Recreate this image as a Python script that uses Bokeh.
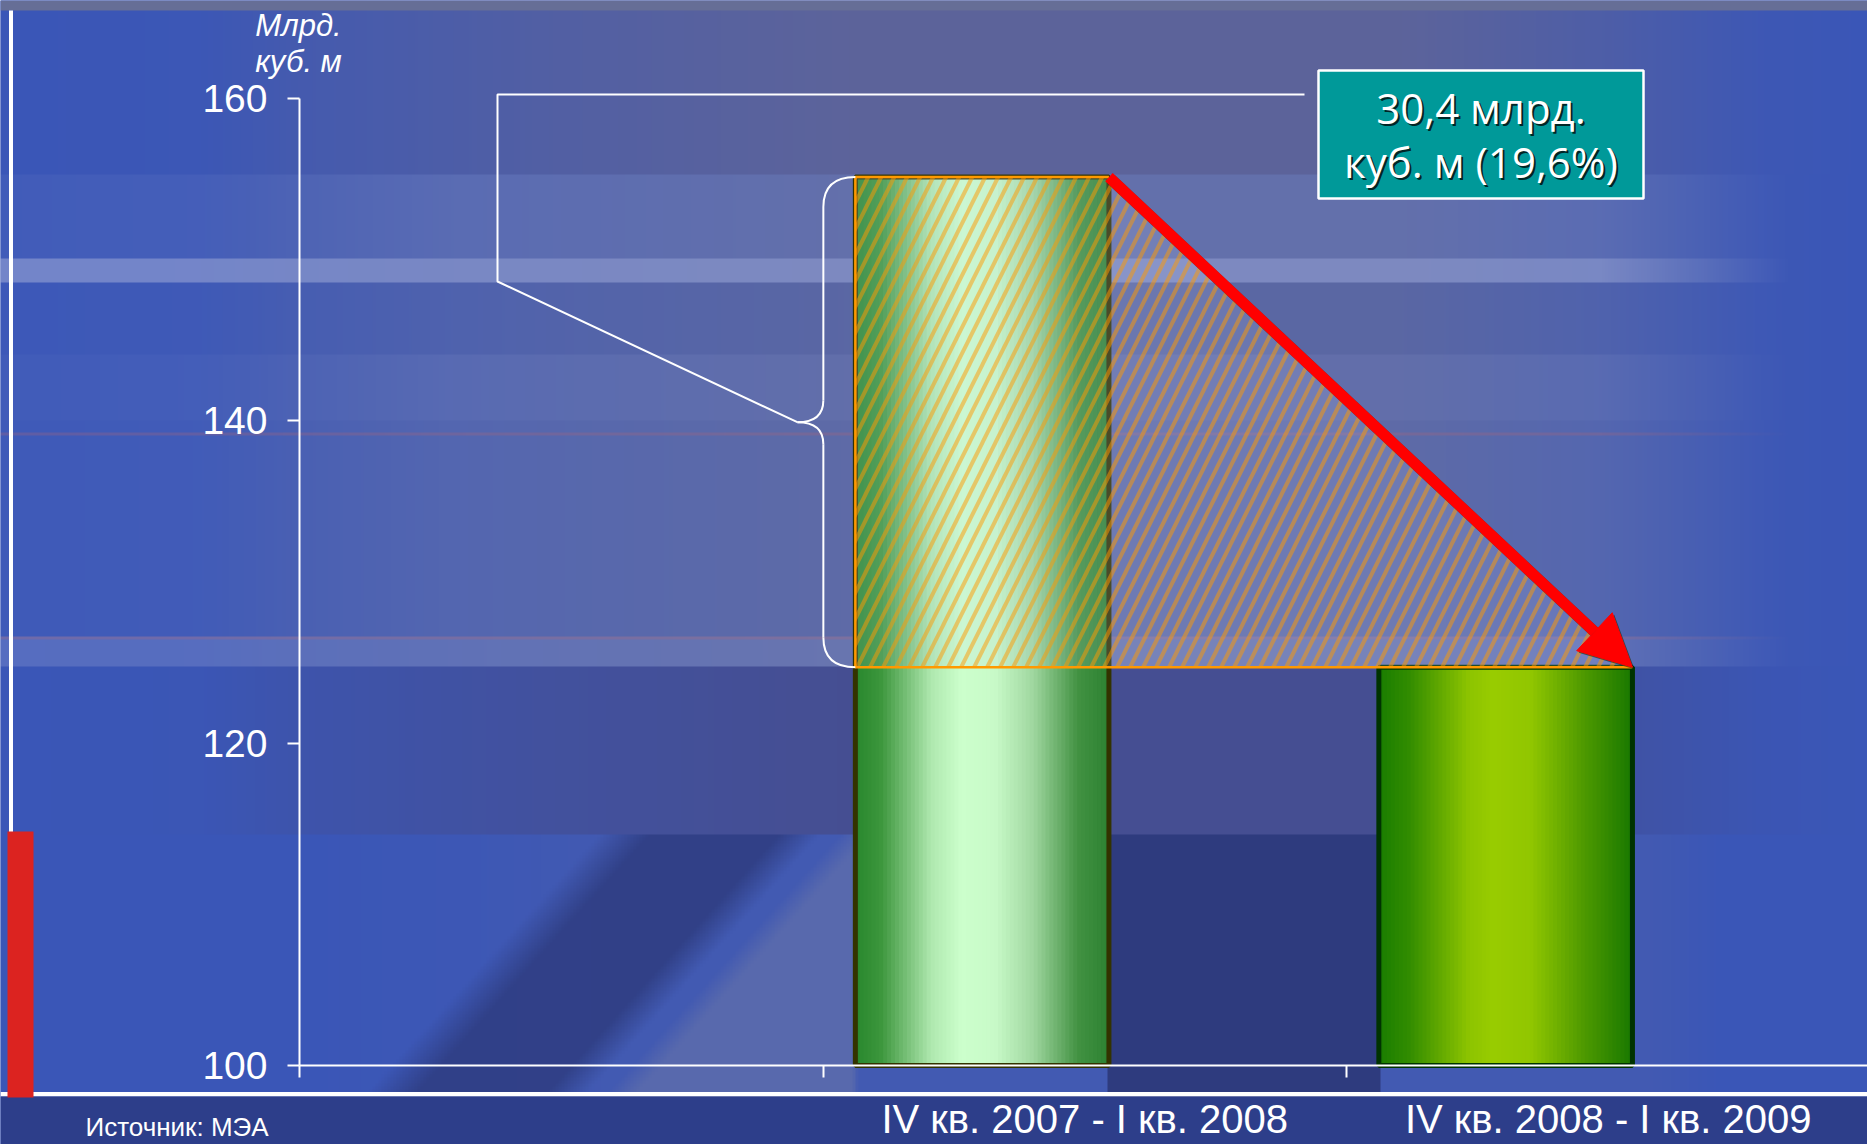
import numpy as np
from bokeh.plotting import figure
from bokeh.models import Range1d, FixedTicker, Arrow, NormalHead
from bokeh.core.properties import value
from bokeh.embed import file_html
from bokeh.resources import INLINE

# ---------------- data ----------------
categories = ["IV кв. 2007 - I кв. 2008", "IV кв. 2008 - I кв. 2009"]
volumes = [155.1, 124.7]
y_ticks = [100, 120, 140, 160]
unit_lines = ["Млрд.", "куб. м"]
change_lines = ["30,4 млрд.", "куб. м (19,6%)"]
source_text = "Источник: МЭА"

# ---------------- geometry (canvas pixels) ----------------
W, H = 1867, 1144
AX_X, AX_Y = 299, 1065   # pixel position of x=0 and y=100
XU = 523.5               # px per category slot
YU = 16.123              # px per value unit
Y0 = 100


def xd(px):
    return (px - AX_X) / XU


def yd(py):
    return Y0 + (AX_Y - py) / YU


def dx(px):
    return px / XU


def dy(px):
    return px / YU


BLUE = "#3a56b7"

p = figure(width=W, height=H, x_range=Range1d(xd(0), xd(W)), y_range=Range1d(yd(H), yd(0)),
           output_backend="svg", toolbar_location=None,
           min_border_left=0, min_border_right=0, min_border_top=0, min_border_bottom=0)
p.background_fill_color = BLUE
p.border_fill_color = BLUE
p.outline_line_color = None
p.grid.visible = False

# ---------------- background texture ----------------
RES = 3
xs_px = np.arange(0, W, RES) + RES / 2.0
ys_px = np.arange(0, H, RES) + RES / 2.0
X, Y = np.meshgrid(xs_px, ys_px)


def c(*rgb):
    return np.array(rgb, dtype=float)


def mix(col, target, t):
    t = np.clip(np.broadcast_to(t, col.shape[:2]), 0, 1)[..., None]
    return col * (1 - t) + target * t


base = np.broadcast_to(c(58, 86, 183), X.shape + (3,)).copy()
g = np.interp(X, [0, 200, 299, 550, 850, 1400, 1600, 1760, 1867],
              [0, 0.05, 0.3, 0.65, 0.95, 0.95, 0.55, 0.1, 0.0])
s = np.interp(X, [1600, 1790], [1.0, 0.0])
lf = np.interp(X, [0, 250, 450], [0.35, 0.5, 1.0])

col = mix(base, c(94, 100, 153), g)
m = ((Y >= 175) & (Y < 667))[..., None]
col = np.where(m, mix(base, c(86, 98, 158), g), col)
bands = [(175, 257, 0.22, False), (257, 283, 0.62, True), (283, 355, 0.08, False),
         (355, 420, 0.2, False), (420, 635, 0.14, False), (635, 667, 0.3, True)]
for y0, y1, st, full in bands:
    m = ((Y >= y0) & (Y < y1))[..., None]
    k = st * s * (1.0 if full else lf)
    col = np.where(m, mix(col, c(150, 162, 212), k), col)
for y0, y1 in [(433, 436), (636, 639)]:
    m = ((Y >= y0) & (Y < y1))[..., None]
    col = np.where(m, mix(col, c(170, 100, 120), 0.3 * s), col)
m = ((Y >= 667) & (Y < 833))[..., None]
col = np.where(m, mix(base, c(70, 78, 144), g), col)
# lower photo-like area
ph = mix(base, c(80, 96, 168), np.interp(X, [299, 480, 600, 1650, 1720], [0, 0.15, 0.35, 0.35, 0]))
u = X + 0.9 * (Y - 833)
dark = np.clip(np.minimum((u - 600) / 50, (820 - u) / 40), 0, 1) * (X < 860)
ph = mix(ph, c(46, 60, 128), dark * 0.85)
light = np.clip(np.minimum((u - 840) / 30, (858 - X) / 6), 0, 1)
ph = mix(ph, c(92, 108, 172), light * 0.85)
ph = mix(ph, c(44, 56, 120), ((X >= 1108) & (X < 1380)) * 0.9)
m = ((Y >= 833) & (Y < 1096))[..., None]
col = np.where(m, ph, col)

rows, cols = X.shape
rgba = np.zeros((rows, cols, 4), dtype=np.uint8)
rgba[..., :3] = np.clip(np.round(col), 0, 255).astype(np.uint8)
rgba[..., 3] = 255
img = np.ascontiguousarray(rgba.view(np.uint32).reshape(rows, cols)[::-1])
p.image_rgba(image=[img], x=xd(0), y=yd(rows * RES), dw=dx(cols * RES), dh=dy(rows * RES))

# ---------------- slide decorations ----------------
deco = [  # (left, right, top, bottom, colour) in canvas px
    (0, W, 0, 10, "#666e96"),
    (8.5, 12.5, 10, 1092, "#ffffff"),
    (0, W, 1091.5, 1096, "#ffffff"),
    (0, W, 1096, H, "#2d3e8a"),
    (7, 33, 831, 1097, "#dc2320"),
]
p.quad(left=[xd(a[0]) for a in deco], right=[xd(a[1]) for a in deco],
       top=[yd(a[2]) for a in deco], bottom=[yd(a[3]) for a in deco],
       fill_color=[a[4] for a in deco], line_color=None)

# ---------------- bars ----------------
centers = [i + 1.5 for i in range(len(categories))]
BAR_OFF = -0.196
BAR_W = 0.4844
bar_x = [cx + BAR_OFF for cx in centers]
grad_stops = [
    [(0.0, (40, 135, 45)), (0.1, (60, 150, 60)), (0.3, (175, 232, 175)), (0.42, (204, 255, 204)),
     (0.55, (200, 250, 200)), (0.7, (160, 215, 160)), (0.88, (65, 145, 65)), (1.0, (45, 130, 50))],
    [(0.0, (25, 125, 0)), (0.12, (50, 140, 0)), (0.35, (140, 195, 0)), (0.45, (153, 204, 0)),
     (0.6, (145, 198, 0)), (0.8, (80, 155, 0)), (1.0, (25, 120, 0))],
]
outline_colors = ["#333300", "#003300"]


def grad(stops, t):
    ts = [a for a, _ in stops]
    return "#%02x%02x%02x" % tuple(int(round(np.interp(t, ts, [cc[k] for _, cc in stops]))) for k in range(3))


N = 64
for bx, v, stops in zip(bar_x, volumes, grad_stops):
    w = BAR_W / N
    lefts = bx - BAR_W / 2 + np.arange(N) * w
    rights = np.minimum(lefts + w * 1.8, bx + BAR_W / 2)
    colors = [grad(stops, (k + 0.5) / N) for k in range(N)]
    p.quad(left=lefts, right=rights, bottom=Y0, top=v, fill_color=colors, line_color=None)
p.quad(left=[bx - BAR_W / 2 for bx in bar_x], right=[bx + BAR_W / 2 for bx in bar_x],
       bottom=Y0, top=volumes, fill_color=None, line_color=outline_colors, line_width=5)

# ---------------- change highlight ----------------
b1l = bar_x[0] - BAR_W / 2
b1r = bar_x[0] + BAR_W / 2
b2r = bar_x[1] + BAR_W / 2
v0, v1 = volumes
p.patch(x=[b1l, b1r, b2r, b1l], y=[v0, v0, v1, v1], fill_color="#c8d0f4", fill_alpha=0.16,
        line_color=None, hatch_pattern="/", hatch_color="#ff9900", hatch_alpha=0.5,
        hatch_scale=26, hatch_weight=4)
p.line(x=[b1r, b1l, b1l, b2r], y=[v0, v0, v1, v1], line_color="#ff9900", line_width=2.5)

# brace
mid = (v0 + v1) / 2
brace_x = b1l - dx(32)
tip_x = b1l - dx(58)
r = dy(30)
r2 = dy(22)
p.quadratic(x0=[b1l, brace_x, tip_x, brace_x], y0=[v0, mid + r2, mid, v1 + r],
            x1=[brace_x, tip_x, brace_x, b1l], y1=[v0 - r, mid, mid - r2, v1],
            cx=[brace_x, brace_x, brace_x, brace_x], cy=[v0, mid, mid, v1],
            line_color="white", line_width=2)
p.segment(x0=[brace_x, brace_x], y0=[v0 - r, mid - r2], x1=[brace_x, brace_x], y1=[mid + r2, v1 + r],
          line_color="white", line_width=2)

# connector to label box
box_l, box_r, box_t, box_b = xd(1318), xd(1643), yd(70), yd(198)
p.line(x=[tip_x, xd(497), xd(497), box_l - dx(14)], y=[mid, yd(281), yd(94), yd(94)],
       line_color="white", line_width=2)
p.quad(left=[box_l], right=[box_r], top=[box_t], bottom=[box_b], fill_color="#009999",
       line_color="white", line_width=2.5)
bcx = (box_l + box_r) / 2
bcy = (box_t + box_b) / 2
line_y = [bcy + dy(27), bcy - dy(27)]
p.text(x=[bcx] * 2, y=line_y, text=change_lines, text_font=value("Open Sans"), text_font_size="42px",
       text_color="black", text_alpha=0.75, text_align="center", text_baseline="middle",
       x_offset=2, y_offset=2)
p.text(x=[bcx] * 2, y=line_y, text=change_lines, text_font=value("Open Sans"), text_font_size="42px",
       text_color="white", text_align="center", text_baseline="middle")

# red arrow
p.add_layout(Arrow(x_start=b1r + dx(2), y_start=v0 - dy(2), x_end=b2r + dx(2), y_end=v1 - dy(2),
                   line_color="#0c300c", line_alpha=0.6, line_width=11,
                   end=NormalHead(size=52, fill_color="#0c300c", fill_alpha=0.6, line_color=None)))
p.add_layout(Arrow(x_start=b1r, y_start=v0, x_end=b2r, y_end=v1, line_color="#ff0000", line_width=11,
                   end=NormalHead(size=52, fill_color="#ff0000", line_color="#ff0000")))

# ---------------- texts ----------------
p.text(x=[xd(298)] * 2, y=[yd(25), yd(61)], text=unit_lines, text_align="center",
       text_baseline="middle", text_font=value("Liberation Sans"), text_font_style="italic",
       text_font_size="31px", text_color="white")
p.text(x=[xd(85)], y=[yd(1126)], text=[source_text], text_align="left", text_baseline="middle",
       text_font=value("Liberation Sans"), text_font_size="26px", text_color="white")

# ---------------- axes (fixed inside the full-canvas frame) ----------------
yax = p.yaxis[0]
yax.fixed_location = 0
yax.ticker = FixedTicker(ticks=y_ticks)
yax.bounds = (y_ticks[0], y_ticks[-1])
yax.axis_line_color = "white"
yax.axis_line_width = 2
yax.major_tick_line_color = "white"
yax.major_tick_line_width = 2
yax.major_tick_out = 12
yax.major_tick_in = 0
yax.minor_tick_line_color = None
yax.major_label_text_color = "white"
yax.major_label_text_font = "Liberation Sans"
yax.major_label_text_font_size = "39px"
yax.major_label_standoff = 20

xax = p.xaxis[0]
xax.fixed_location = Y0
boundaries = [float(i) for i in range(len(categories) + 1)]
xax.ticker = FixedTicker(ticks=centers, minor_ticks=boundaries)
xax.bounds = (0, xd(W))
xax.major_label_overrides = {cx: lab for cx, lab in zip(centers, categories)}
xax.major_tick_line_color = None
xax.major_tick_out = 0
xax.major_tick_in = 0
xax.minor_tick_line_color = "white"
xax.minor_tick_line_width = 2
xax.minor_tick_out = 12
xax.minor_tick_in = 0
xax.axis_line_color = "white"
xax.axis_line_width = 2
xax.major_label_text_color = "white"
xax.major_label_text_font = "Liberation Sans"
xax.major_label_text_font_size = "40px"
xax.major_label_standoff = 19

open("out.html", "w").write(file_html(p, INLINE))
